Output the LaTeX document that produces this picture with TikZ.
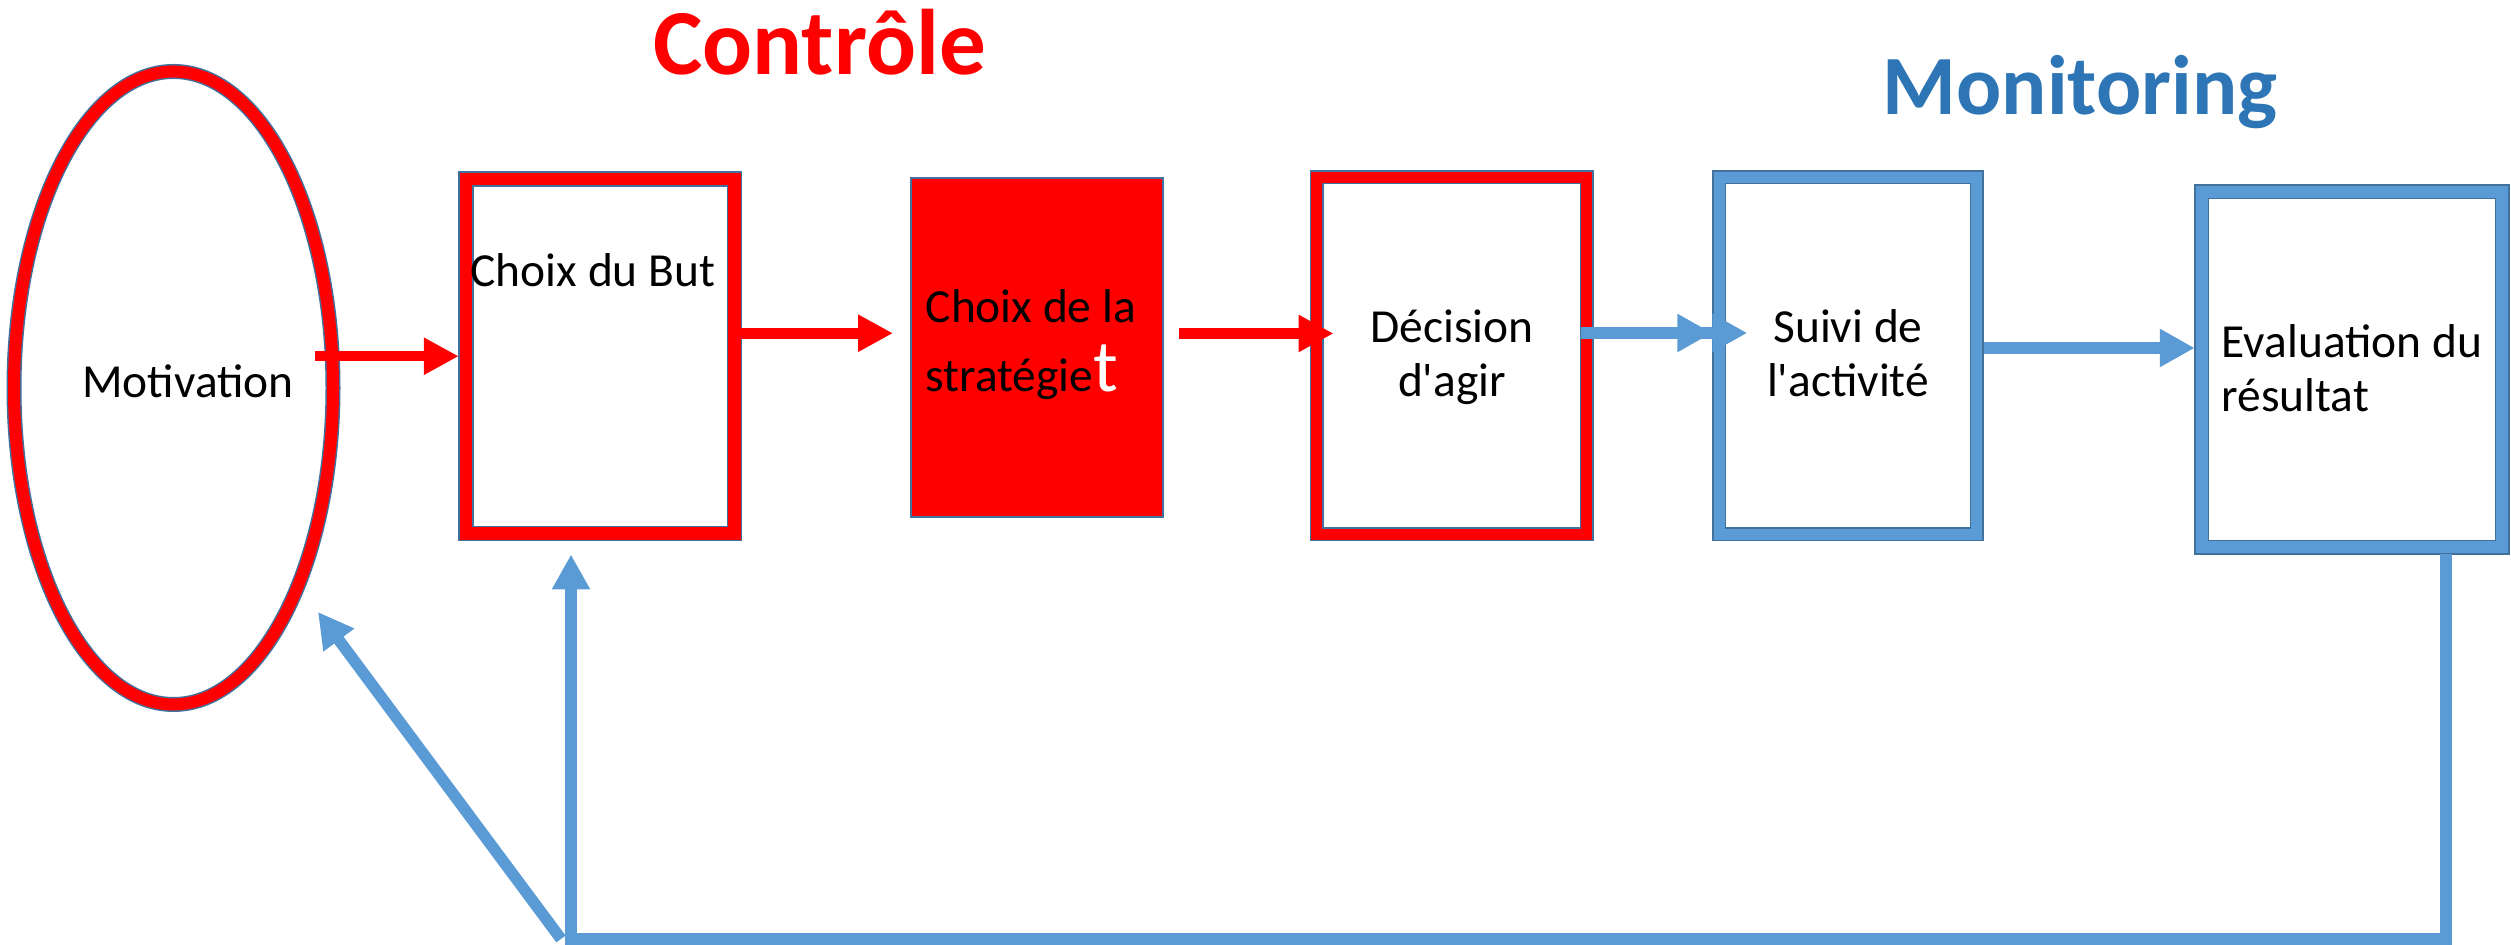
\documentclass[tikz,border=0pt]{standalone}
\usepackage{fontspec}
\setmainfont{Carlito}
\usetikzlibrary{arrows.meta,shapes.geometric}
\definecolor{ctrlred}{RGB}{255,0,0}
\definecolor{monblue}{RGB}{91,155,213}
\definecolor{edgeblue}{RGB}{65,113,156}
\definecolor{titleblue}{RGB}{46,117,182}
\newcommand{\bodyfont}{\fontsize{13.5}{15.6}\selectfont}
\newcommand{\bigt}{{\color{white}\fontsize{21}{21}\selectfont t}}

\begin{document}
\begin{tikzpicture}[
    redframe/.style={draw=edgeblue, line width=0.015cm, double=ctrlred,
      double distance=0.11cm, outer sep=0.07cm, inner sep=0pt, fill=white},
    blueframe/.style={draw=edgeblue, line width=0.015cm, double=monblue,
      double distance=0.11cm, outer sep=0.07cm, inner sep=0pt, fill=white},
    txt/.style={font=\bodyfont, inner sep=0pt},
    redarrow/.style={draw=ctrlred, line width=0.11cm,
      -{Triangle[length=0.35cm,width=0.35cm]}},
    bluearrow/.style={draw=monblue, line width=0.115cm,
      -{Triangle[length=0.35cm,width=0.36cm]}},
    blueline/.style={draw=monblue, line width=0.12cm}
  ]
    \useasboundingbox (0,0) rectangle (25.11,9.45);

    % titles
    \node[font=\fontsize{26.5}{26.5}\selectfont\bfseries, text=ctrlred, inner sep=0pt,
      anchor=base] (ctrl) at (8.195,8.70) {Contrôle};
    \node[font=\fontsize{24}{24}\selectfont\bfseries, text=titleblue, inner sep=0pt,
      anchor=base] (moni) at (20.80,8.30) {Monitoring};

    % boxes
    \node[redframe, ellipse, double distance=0.12cm, minimum width=3.19cm, minimum height=6.33cm] (motiv) at (1.735,5.57) {};
    \node[redframe, rectangle, double distance=0.125cm, minimum width=2.685cm, minimum height=3.545cm] (but) at (6.00,5.8875) {};
    \node[rectangle, draw=edgeblue, line width=0.02cm, fill=ctrlred,
      minimum width=2.52cm, minimum height=3.39cm] (strat) at (10.37,5.975) {};
    \node[redframe, rectangle, minimum width=2.70cm, minimum height=3.57cm] (dec) at (14.515,5.89) {};
    \node[blueframe, rectangle, minimum width=2.575cm, minimum height=3.57cm] (sui) at (18.48,5.89) {};
    \node[blueframe, rectangle, double distance=0.12cm, minimum width=3.005cm, minimum height=3.555cm] (eval) at (23.52,5.7525) {};

    % texts (base = last line)
    \node[txt, anchor=base] (motivtxt) at (1.88,5.47) {Motivation};
    \node[txt, anchor=base] (buttxt) at (5.93,6.58) {Choix du But};
    \node[txt, anchor=base west, align=left] (strattxt) at (9.25,5.53)
      {Choix de la\\[0.15cm]stratégie\bigt};
    \node[txt, anchor=base, align=center] (dectxt) at (14.52,5.48) {Décision\\d\textquotesingle agir};
    \node[txt, anchor=base, align=center] (suitxt) at (18.48,5.48) {Suivi de\\l\textquotesingle activité};
    \node[txt, anchor=base west, align=left] (evaltxt) at (22.21,5.33) {Evaluation du\\résultat};

    % forward arrows
    \draw[redarrow, line width=0.10cm] ([xshift=-0.25cm]motiv.east |- but.west) -- (but.west);
    \draw[redarrow, shorten >=0.17cm] ([yshift=0.23cm]but.east) -- ([yshift=0.23cm]but.east -| strat.west);
    \draw[redarrow, shorten <=0.15cm, shorten >=-0.24cm] ([yshift=0.14cm]strat.east) -- ([yshift=0.14cm]strat.east -| dec.west);
    \draw[draw=monblue, line width=0.115cm, shorten <=-0.13cm, shorten >=-0.35cm,
      -{Triangle[length=0.35cm,width=0.36cm,sep=0pt]Triangle[length=0.35cm,width=0.36cm,sep=0pt]}]
      ([yshift=0.23cm]dec.east) -- ([yshift=0.23cm]dec.east -| sui.west);
    \draw[bluearrow] ([yshift=0.08cm]sui.east) -- ([yshift=0.08cm]sui.east -| eval.west);

    % feedback loop
    \coordinate (corner) at (5.71,0.06);
    \coordinate (back) at (3.18,3.33);
    \draw[blueline] ([xshift=0.94cm]eval.south) |- ([xshift=-0.06cm]corner);
    \draw[bluearrow, shorten >=0.14cm] (corner) -- (corner |- but.south);
    \draw[bluearrow] ([xshift=-0.1cm]corner) -- (back);
\end{tikzpicture}
\end{document}
